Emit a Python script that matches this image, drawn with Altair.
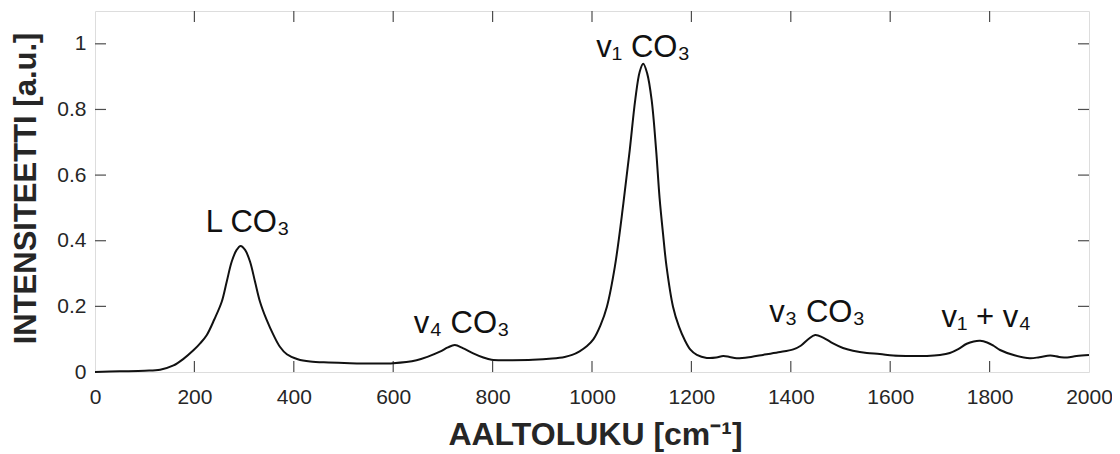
import altair as alt
import pandas as pd

# spectrum
wavenumber = [0, 50, 100, 131, 158, 178, 198, 212, 225, 240, 255, 265, 275, 285, 293, 302, 312, 322, 332, 345,
              359, 372, 386, 408, 433, 470, 513, 560, 600, 647, 670, 694, 710, 724, 740, 761, 780, 798, 840, 881,
              920, 945, 960, 975, 990, 1003, 1017, 1030, 1046, 1063, 1076, 1087, 1096, 1103, 1111, 1120, 1129, 1136,
              1143, 1150, 1163, 1175, 1187, 1198, 1211, 1231, 1250, 1264, 1277, 1291, 1320, 1344, 1375, 1405, 1420,
              1435, 1449, 1465, 1485, 1505, 1525, 1553, 1579, 1606, 1640, 1674, 1700, 1720, 1737, 1754, 1768, 1781,
              1795, 1808, 1821, 1850, 1881, 1900, 1922, 1940, 1956, 1975, 2000]
intensity = [0.0, 0.002, 0.004, 0.007, 0.02, 0.04, 0.066, 0.088, 0.113, 0.16, 0.214, 0.275, 0.336, 0.372, 0.384,
             0.372, 0.336, 0.275, 0.214, 0.16, 0.113, 0.077, 0.054, 0.039, 0.032, 0.029, 0.027, 0.026, 0.027, 0.036,
             0.047, 0.062, 0.075, 0.082, 0.073, 0.057, 0.045, 0.037, 0.036, 0.037, 0.041, 0.046, 0.052, 0.063, 0.079,
             0.100, 0.142, 0.199, 0.321, 0.512, 0.677, 0.829, 0.915, 0.939, 0.91, 0.829, 0.677, 0.53, 0.42, 0.321,
             0.199, 0.138, 0.096, 0.068, 0.052, 0.043, 0.044, 0.049, 0.046, 0.042, 0.046, 0.052, 0.06, 0.069, 0.08,
             0.1, 0.113, 0.105, 0.087, 0.073, 0.065, 0.058, 0.055, 0.050, 0.049, 0.049, 0.052, 0.058, 0.07, 0.086,
             0.093, 0.095, 0.09, 0.08, 0.067, 0.051, 0.042, 0.045, 0.05, 0.046, 0.044, 0.049, 0.052]

# peak annotations
peak_labels = ["L CO\u2083", "v\u2081 CO\u2083", "v\u2084 CO\u2083", "v\u2083 CO\u2083", "v\u2081 + v\u2084"]
peak_x = [307, 1103, 738, 1453, 1793]
peak_y = [0.427, 0.961, 0.119, 0.153, 0.138]

x_ticks = [200, 400, 600, 800, 1000, 1200, 1400, 1600, 1800]
y_ticks = [0.2, 0.4, 0.6, 0.8, 1.0]

W, H = 994, 361
FONT = "Liberation Sans"
TXT = "#262626"
FRAME = "#4d4d4d"

spec = pd.DataFrame({"x": wavenumber, "y": intensity})
ann = pd.DataFrame({"label": peak_labels, "x": peak_x, "y": peak_y})
xt = pd.DataFrame({"t": x_ticks})
yt = pd.DataFrame({"t": y_ticks})

xscale = alt.Scale(domain=[0, 2000], nice=False, zero=False)
yscale = alt.Scale(domain=[0, 1.1], nice=False, zero=False)

xaxis = alt.Axis(values=[0, 200, 400, 600, 800, 1000, 1200, 1400, 1600, 1800, 2000], format="d",
                 ticks=False, domain=False, grid=False, labelFontSize=21, labelFont=FONT,
                 labelColor=TXT, labelPadding=14, labelFlush=False,
                 title="AALTOLUKU [cm\u207b\u00b9]", titleFont=FONT, titleFontSize=32,
                 titleFontWeight="bold", titleColor=TXT, titleX=500, titleY=72,
                 titleBaseline="alphabetic", titleAlign="center")
yaxis = alt.Axis(values=[0, 0.2, 0.4, 0.6, 0.8, 1.0], ticks=False, domain=False, grid=False,
                 labelFontSize=21, labelFont=FONT, labelColor=TXT, labelPadding=9,
                 labelExpr="datum.value == 0 ? '0' : datum.value == 1 ? '1' : format(datum.value, '.1f')",
                 title="INTENSITEETTI [a.u.]", titleFont=FONT, titleFontSize=31,
                 titleFontWeight="bold", titleColor=TXT, titleX=-69, titleY=177,
                 titleBaseline="middle", titleAlign="center", titleAngle=270)

line = alt.Chart(spec).mark_line(color="#111111", strokeWidth=2, interpolate="catmull-rom").encode(
    x=alt.X("x:Q", scale=xscale, axis=xaxis),
    y=alt.Y("y:Q", scale=yscale, axis=yaxis),
)

tick_style = dict(color=FRAME, strokeWidth=1.2)
bottom_ticks = alt.Chart(xt).mark_rule(**tick_style).encode(
    x=alt.X("t:Q", scale=xscale), y=alt.value(H), y2=alt.value(H - 11))
top_ticks = alt.Chart(xt).mark_rule(**tick_style).encode(
    x=alt.X("t:Q", scale=xscale), y=alt.value(0), y2=alt.value(11))
left_ticks = alt.Chart(yt).mark_rule(**tick_style).encode(
    y=alt.Y("t:Q", scale=yscale), x=alt.value(0), x2=alt.value(11))
right_ticks = alt.Chart(yt).mark_rule(**tick_style).encode(
    y=alt.Y("t:Q", scale=yscale), x=alt.value(W), x2=alt.value(W - 11))

text = alt.Chart(ann).mark_text(font=FONT, fontSize=31, color="#111111", align="center",
                                baseline="alphabetic").encode(
    x=alt.X("x:Q", scale=xscale), y=alt.Y("y:Q", scale=yscale), text="label:N")

chart = alt.layer(bottom_ticks, top_ticks, left_ticks, right_ticks, line, text).properties(
    width=W, height=H,
    autosize=alt.AutoSizeParams(type="none"),
    padding={"left": 87, "top": 3, "right": 23, "bottom": 84},
).configure_view(stroke=FRAME, strokeWidth=1.5).configure(background="white")

chart.save("out.html", embed_options={"renderer": "svg", "actions": False})
